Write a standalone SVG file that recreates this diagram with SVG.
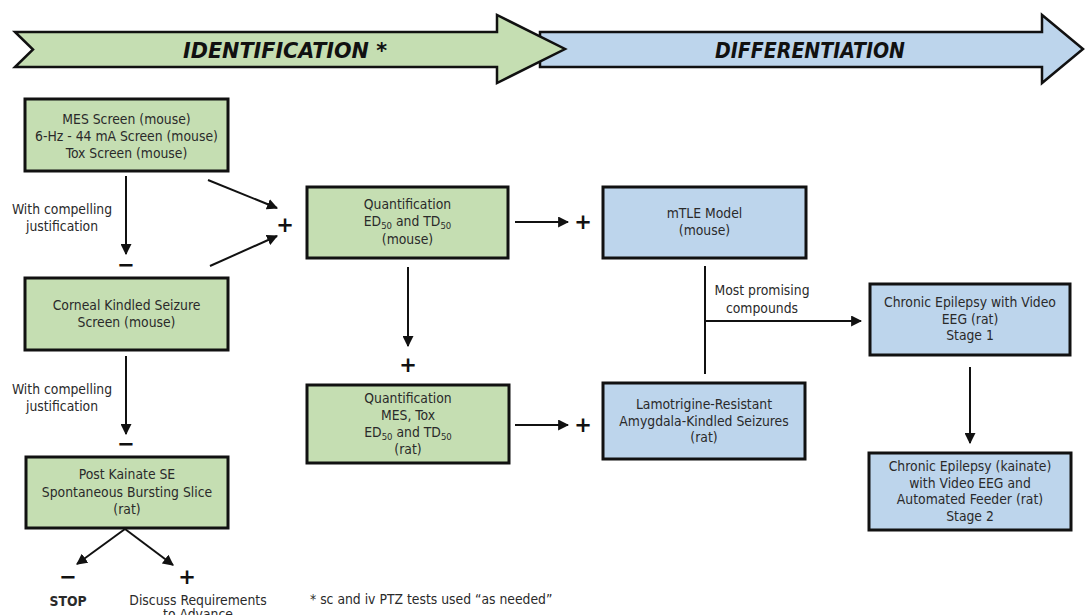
<svg xmlns="http://www.w3.org/2000/svg" width="1086" height="615" viewBox="0 0 1086 615">
<defs>
<marker id="ah" viewBox="0 0 10 10" refX="9" refY="5" markerWidth="5.5" markerHeight="5.5" orient="auto" markerUnits="strokeWidth">
<path d="M0,0 L10,5 L0,10 Z" fill="#111"/>
</marker>
<style>
.g{fill:#c5deb2;stroke:#111;stroke-width:3}
.b{fill:#bdd5ec;stroke:#111;stroke-width:3}
.t{font-family:"DejaVu Sans Condensed","DejaVu Sans",sans-serif;font-size:13.8px;fill:#2a2a2a;text-anchor:middle}
.s{font-size:9.5px}
.sign{font-family:"DejaVu Sans",sans-serif;font-size:21px;font-weight:bold;fill:#111;text-anchor:middle}
.ban{font-family:"DejaVu Sans Condensed","DejaVu Sans",sans-serif;font-size:21px;font-weight:bold;font-style:italic;fill:#111;text-anchor:middle}
.c{stroke:#111;stroke-width:2;fill:none}
.ca{stroke:#111;stroke-width:2;fill:none;marker-end:url(#ah)}
</style>
</defs>
<rect width="1086" height="615" fill="#fff"/>
<g id="banner">
<polygon points="540,32 1042,32 1042,15 1083,49 1042,83 1042,67 540,67" fill="#bdd5ec" stroke="#111" stroke-width="2.5"/>
<polygon points="15,32 497,32 497,15 565,49 497,83 497,67 15,67 33,49.5" fill="#c5deb2" stroke="#111" stroke-width="2.5"/>
<text class="ban" x="285" y="58" textLength="204" lengthAdjust="spacingAndGlyphs">IDENTIFICATION *</text>
<text class="ban" x="810" y="58" textLength="190" lengthAdjust="spacingAndGlyphs">DIFFERENTIATION</text>
</g>
<g id="connectors">
<line class="ca" x1="126" y1="176" x2="126" y2="254"/>
<line class="ca" x1="208" y1="180" x2="277" y2="208"/>
<line class="ca" x1="210" y1="266" x2="277" y2="236"/>
<line class="ca" x1="126" y1="356" x2="126" y2="434"/>
<line class="ca" x1="125" y1="529" x2="77" y2="564"/>
<line class="ca" x1="125" y1="529" x2="173" y2="565"/>
<line class="ca" x1="515" y1="222" x2="568" y2="222"/>
<line class="ca" x1="408" y1="267" x2="408" y2="346"/>
<line class="ca" x1="515" y1="425" x2="568" y2="425"/>
<line class="c" x1="705" y1="266" x2="705" y2="374"/>
<line class="ca" x1="705" y1="321" x2="861" y2="321"/>
<line class="ca" x1="970" y1="367" x2="970" y2="443"/>
</g>
<g id="signs">
<text class="sign" x="285" y="232">+</text>
<text class="sign" x="126" y="272">−</text>
<text class="sign" x="126" y="451">−</text>
<text class="sign" x="68" y="584">−</text>
<text class="sign" x="187" y="584">+</text>
<text class="sign" x="583" y="229">+</text>
<text class="sign" x="408" y="372">+</text>
<text class="sign" x="583" y="432">+</text>
</g>
<g id="labels">
<text class="t" x="62" y="214">With compelling</text>
<text class="t" x="62" y="231">justification</text>
<text class="t" x="62" y="394">With compelling</text>
<text class="t" x="62" y="411">justification</text>
<text class="t" x="762" y="295">Most promising</text>
<text class="t" x="762" y="313">compounds</text>
<text class="t" x="68" y="606" font-weight="bold">STOP</text>
<text class="t" x="198" y="605">Discuss Requirements</text>
<text class="t" x="198" y="619">to Advance</text>
<text class="t" x="310" y="604" style="text-anchor:start">* sc and iv PTZ tests used “as needed”</text>
</g>
<g id="n-mes">
<rect class="g" x="25" y="99" width="203" height="72"/>
<text class="t" x="126.5" y="124">MES Screen (mouse)</text>
<text class="t" x="126.5" y="141">6-Hz - 44 mA Screen (mouse)</text>
<text class="t" x="126.5" y="158">Tox Screen (mouse)</text>
</g>
<g id="n-corneal">
<rect class="g" x="25" y="278" width="203" height="72"/>
<text class="t" x="126.5" y="310">Corneal Kindled Seizure</text>
<text class="t" x="126.5" y="327">Screen (mouse)</text>
</g>
<g id="n-kainate">
<rect class="g" x="26" y="457" width="202" height="71"/>
<text class="t" x="127" y="479">Post Kainate SE</text>
<text class="t" x="127" y="497">Spontaneous Bursting Slice</text>
<text class="t" x="127" y="514">(rat)</text>
</g>
<g id="n-quant-mouse">
<rect class="g" x="307" y="187" width="201" height="71"/>
<text class="t" x="407.5" y="209">Quantification</text>
<text class="t" x="407.5" y="226">ED<tspan class="s" dy="3">50</tspan><tspan dy="-3"> and TD</tspan><tspan class="s" dy="3">50</tspan></text>
<text class="t" x="407.5" y="244">(mouse)</text>
</g>
<g id="n-quant-rat">
<rect class="g" x="307" y="385" width="202" height="78"/>
<text class="t" x="408" y="403">Quantification</text>
<text class="t" x="408" y="420">MES, Tox</text>
<text class="t" x="408" y="437">ED<tspan class="s" dy="3">50</tspan><tspan dy="-3"> and TD</tspan><tspan class="s" dy="3">50</tspan></text>
<text class="t" x="408" y="454">(rat)</text>
</g>
<g id="n-mtle">
<rect class="b" x="603" y="187" width="203" height="71"/>
<text class="t" x="704.5" y="218">mTLE Model</text>
<text class="t" x="704.5" y="235">(mouse)</text>
</g>
<g id="n-lamotrigine">
<rect class="b" x="603" y="383" width="202" height="76"/>
<text class="t" x="704" y="409">Lamotrigine-Resistant</text>
<text class="t" x="704" y="426">Amygdala-Kindled Seizures</text>
<text class="t" x="704" y="442">(rat)</text>
</g>
<g id="n-stage1">
<rect class="b" x="870" y="284" width="200" height="71"/>
<text class="t" x="970" y="307">Chronic Epilepsy with Video</text>
<text class="t" x="970" y="324">EEG (rat)</text>
<text class="t" x="970" y="340">Stage 1</text>
</g>
<g id="n-stage2">
<rect class="b" x="869" y="453" width="202" height="77"/>
<text class="t" x="970" y="471">Chronic Epilepsy (kainate)</text>
<text class="t" x="970" y="488">with Video EEG and</text>
<text class="t" x="970" y="504">Automated Feeder (rat)</text>
<text class="t" x="970" y="521">Stage 2</text>
</g>
</svg>
